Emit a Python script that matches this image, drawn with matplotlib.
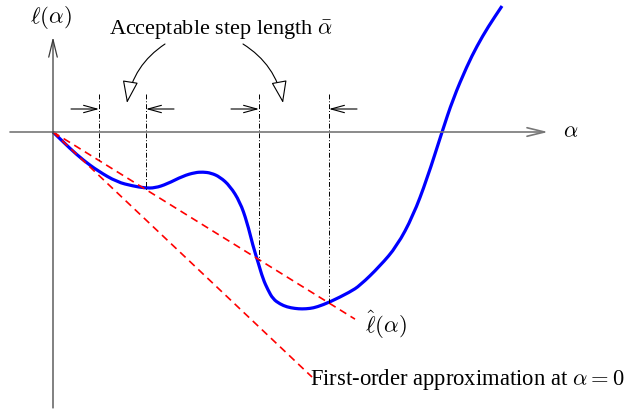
import numpy as np
import matplotlib
matplotlib.use("Agg")
import matplotlib.pyplot as plt
from matplotlib.patches import FancyArrowPatch, PathPatch
from matplotlib.path import Path

plt.rcParams["font.family"] = ["Liberation Serif", "DejaVu Serif"]
plt.rcParams["mathtext.fontset"] = "cm"

# sampled points of the merit function l(alpha)
alpha = [0.00, 0.17, 0.30, 0.45, 0.64, 0.80, 0.92, 1.02, 1.14, 1.30, 1.42,
         1.50, 1.58, 1.67, 1.77, 1.87, 1.94, 2.00, 2.05, 2.10, 2.15, 2.20,
         2.27, 2.34, 2.42, 2.49, 2.57, 2.64, 2.77, 2.97, 3.07, 3.27, 3.44,
         3.60, 3.74, 3.89, 4.00, 4.14, 4.24, 4.35, 4.49]
ell = [0.00, -0.165, -0.28, -0.39, -0.50, -0.54, -0.56, -0.56, -0.52, -0.44,
       -0.405, -0.40, -0.41, -0.45, -0.54, -0.70, -0.90, -1.14, -1.30, -1.47,
       -1.58, -1.67, -1.72, -1.75, -1.765, -1.77, -1.765, -1.75, -1.70, -1.60,
       -1.535, -1.34, -1.14, -0.84, -0.47, 0.00, 0.33, 0.66, 0.86, 1.05, 1.26]

slope0 = -0.946   # l'(0)
c1 = 0.655        # sufficient decrease factor
tangent_end = 2.59
lhat_end = 3.02

# boundaries of the acceptable intervals
bounds = [0.46, 0.93, 2.06, 2.76]
bound_top = 0.38
arrow_y = 0.23
arrow_len = 0.28


def smooth_path(xs, ys):
    # quadratic bezier through the midpoints, samples act as control points
    pts = np.column_stack([xs, ys])
    mids = (pts[:-1] + pts[1:]) / 2
    verts = [pts[0], mids[0]]
    codes = [Path.MOVETO, Path.LINETO]
    for i in range(1, len(pts) - 1):
        verts += [pts[i], mids[i]]
        codes += [Path.CURVE3, Path.CURVE3]
    verts.append(pts[-1])
    codes.append(Path.LINETO)
    return Path(verts, codes)


fig = plt.figure(figsize=(6.29, 4.14), dpi=100)
ax = fig.add_axes([0, 0, 1, 1])
ax.set_xlim(-0.53, 5.76)
ax.set_ylim(-2.81, 1.33)
ax.axis("off")

# coordinate axes
ax.annotate("", xy=(4.95, 0), xytext=(-0.43, 0),
            arrowprops=dict(arrowstyle="->,head_length=0.9,head_width=0.22",
                            color="#777777", lw=1.2, mutation_scale=14,
                            shrinkA=0, shrinkB=0))
ax.annotate("", xy=(0, 0.95), xytext=(0, -2.76),
            arrowprops=dict(arrowstyle="->,head_length=0.9,head_width=0.22",
                            color="#3a3a3a", lw=0.9, mutation_scale=14,
                            shrinkA=0, shrinkB=0))
ax.text(5.18, 0, r"$\alpha$", fontsize=16, ha="center", va="center")
ax.text(-0.02, 1.16, r"$\ell(\alpha)$", fontsize=16.5, ha="center",
        va="center")

# first-order approximation and relaxed line
a = np.array([0, tangent_end])
ax.plot(a, slope0 * a, color="red", lw=1.2, ls=(0, (4.5, 3)))
a = np.array([0, lhat_end])
ax.plot(a, c1 * slope0 * a, color="red", lw=1.2, ls=(0, (4.5, 3)))

ax.add_patch(PathPatch(smooth_path(alpha, ell), fc="none", ec="blue",
                       lw=2.3, joinstyle="round", capstyle="butt"))

# interval markers
for i, b in enumerate(bounds):
    ax.plot([b, b], [bound_top, c1 * slope0 * b], color="black", lw=0.7,
            ls=(0, (5, 2, 1, 2)))
    start = b - arrow_len if i % 2 == 0 else b + arrow_len
    ax.annotate("", xy=(b, arrow_y), xytext=(start, arrow_y),
                arrowprops=dict(arrowstyle="->,head_length=0.8,head_width=0.22",
                                color="black", lw=0.8, mutation_scale=12,
                                shrinkA=0, shrinkB=0))

ax.text(1.68, 1.03, r"Acceptable step length $\bar{\alpha}$", fontsize=16,
        ha="center", va="center")
for (x0, y0), (x1, y1), rad in [((1.12, 0.88), (0.74, 0.29), 0.22),
                                ((1.90, 0.88), (2.30, 0.29), -0.22)]:
    ax.add_patch(FancyArrowPatch((x0, y0), (x1, y1),
                                 connectionstyle=f"arc3,rad={rad}",
                                 arrowstyle="-|>,head_length=1.0,head_width=0.35",
                                 mutation_scale=14, lw=0.8, ec="black",
                                 fc="white", shrinkA=0, shrinkB=0))

ax.text(3.12, -1.92, r"$\hat{\ell}(\alpha)$", fontsize=16.5, ha="left",
        va="center")
ax.text(2.57, -2.47, r"First-order approximation at $\alpha = 0$",
        fontsize=16.3, ha="left", va="center")

fig.savefig("out.png", dpi=100)
